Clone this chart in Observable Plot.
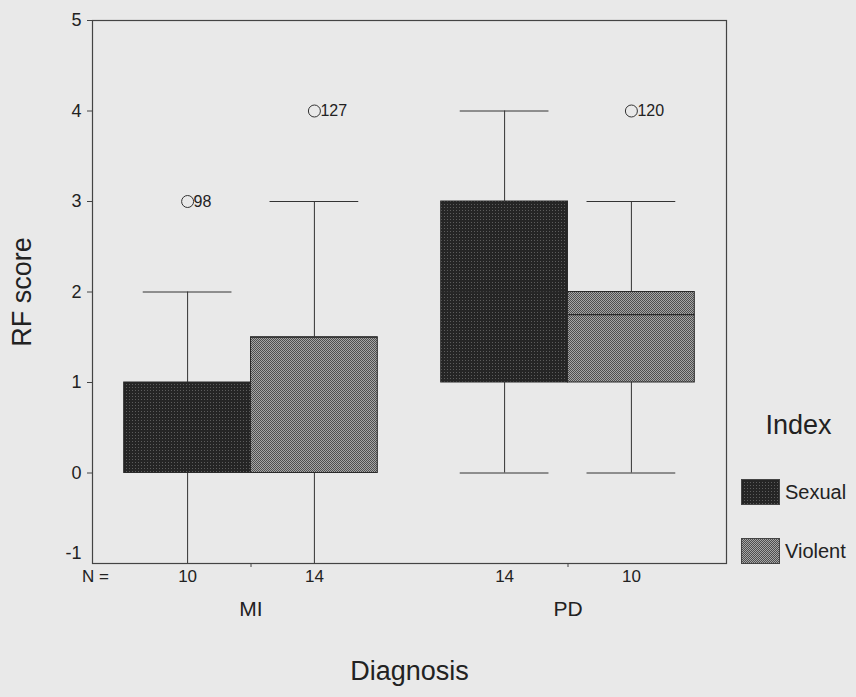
<!DOCTYPE html>
<html>
<head>
<meta charset="utf-8">
<script src="https://cdn.jsdelivr.net/npm/d3@7"></script>
<script src="https://cdn.jsdelivr.net/npm/@observablehq/plot@0.6"></script>
<style>
  html, body { margin: 0; padding: 0; background: #e9e9e9; }
  #wrap { position: relative; width: 856px; height: 697px; font-family: "Liberation Sans", Arial, sans-serif; color: #222; }
  #legend { position: absolute; left: 741px; top: 410px; width: 115px; }
  #legend .title { position: absolute; left: 0; top: 2px; width: 115px; text-align: center; font-size: 27px; line-height: 27px; }
  #legend .row { position: absolute; left: 0; display: flex; align-items: center; font-size: 20px; white-space: nowrap; }
  #legend .row svg { display: block; margin-right: 5px; }
</style>
</head>
<body>
<div id="wrap"></div>
<script>
// ---- data ----
const diagnoses = ["MI", "PD"];
const indexes = ["Sexual", "Violent"];
// order: MI-Sexual, MI-Violent, PD-Sexual, PD-Violent
const lowerWhisker = [-1, -1, 0, 0];
const q1 = [0, 0, 1, 1];
const medians = [0.5, 1.5, 2, 1.75];
const q3 = [1, 1.5, 3, 2];
const upperWhisker = [2, 3, 4, 3];
const nCounts = [10, 14, 14, 10];
const outlierDiagnosis = ["MI", "MI", "PD"];
const outlierIndex = ["Sexual", "Violent", "Violent"];
const outlierValue = [3, 4, 4];
const outlierCase = ["98", "127", "120"];
const yTicks = [-1, 0, 1, 2, 3, 4, 5];

const fills = {Sexual: "url(#pSexual)", Violent: "url(#pViolent)"};
const halfWidth = 0.4, capHalf = 0.14;

function slot(d, k) {
  const i = diagnoses.indexOf(d), j = indexes.indexOf(k);
  return {
    x1: j === 0 ? i - halfWidth : i,
    x2: j === 0 ? i : i + halfWidth,
    xc: j === 0 ? i - halfWidth / 2 : i + halfWidth / 2
  };
}

const boxes = [];
diagnoses.forEach((d, i) => indexes.forEach((k, j) => {
  const n = i * 2 + j;
  boxes.push({diagnosis: d, index: k, ...slot(d, k),
    lo: lowerWhisker[n], q1: q1[n], med: medians[n], q3: q3[n], hi: upperWhisker[n], n: nCounts[n]});
}));
const outliers = outlierValue.map((v, i) => ({value: v, label: outlierCase[i], ...slot(outlierDiagnosis[i], outlierIndex[i])}));

const ink = "#333";
const font = "Liberation Sans, Arial, sans-serif";

const chart = Plot.plot({
  width: 856,
  height: 697,
  marginLeft: 92,
  marginRight: 130,
  marginTop: 20,
  marginBottom: 134,
  style: {background: "#e9e9e9", fontFamily: font, color: "#222", overflow: "visible"},
  x: {type: "linear", domain: [-0.5, 1.5], axis: null},
  y: {domain: [-1, 5], axis: null},
  marks: [
    // whiskers
    Plot.ruleX(boxes, {x: "xc", y1: "lo", y2: "q1", stroke: ink, strokeWidth: 1}),
    Plot.ruleX(boxes, {x: "xc", y1: "q3", y2: "hi", stroke: ink, strokeWidth: 1}),
    Plot.ruleY(boxes, {y: "hi", x1: d => d.xc - capHalf, x2: d => d.xc + capHalf, stroke: ink, strokeWidth: 1}),
    Plot.ruleY(boxes, {y: "lo", x1: d => d.xc - capHalf, x2: d => d.xc + capHalf, stroke: ink, strokeWidth: 1}),
    // boxes
    Plot.rect(boxes, {x1: "x1", x2: "x2", y1: "q1", y2: "q3", fill: d => fills[d.index], stroke: "#2a2a2a", strokeWidth: 1}),
    Plot.ruleY(boxes, {y: "med", x1: "x1", x2: "x2", stroke: "#2a2a2a", strokeWidth: 1.2}),
    // outliers
    Plot.dot(outliers, {x: "xc", y: "value", r: 6, stroke: ink, strokeWidth: 1, fill: "none"}),
    Plot.text(outliers, {x: "xc", y: "value", text: "label", dx: 6, textAnchor: "start", fontSize: 16, fill: "#222"}),
    // frame
    Plot.frame({stroke: "#444", strokeWidth: 1.2}),
    // y axis
    Plot.axisY({ticks: yTicks.filter(t => t >= 0), tickSize: 5, tickFormat: () => "", label: null, stroke: "#444"}),
    Plot.text(yTicks.filter(t => t >= 0), {y: d => d, frameAnchor: "left", dx: -11, textAnchor: "end", fontSize: 18, fill: "#222", text: d => String(d)}),
    Plot.text(yTicks.filter(t => t < 0), {y: d => d, frameAnchor: "left", dx: -11, dy: -10, textAnchor: "end", fontSize: 18, fill: "#222", text: d => String(d)}),
    Plot.text(["RF score"], {frameAnchor: "left", dx: -70, rotate: -90, textAnchor: "middle", fontSize: 27, fill: "#222"}),
    // x axis
    Plot.axisX({ticks: diagnoses.map((d, i) => i), tickSize: 4, tickFormat: () => "", label: null, stroke: "#444"}),
    Plot.text(diagnoses, {x: (d, i) => i, frameAnchor: "bottom", dy: 52, fontSize: 21, fill: "#222", text: d => d}),
    Plot.text(boxes, {x: "xc", text: d => String(d.n), frameAnchor: "bottom", dy: 18, fontSize: 17, fill: "#222"}),
    Plot.text(["N ="], {x: () => -0.5, frameAnchor: "bottom", dx: 3, dy: 18, fontSize: 17, fill: "#222"}),
    Plot.text(["Diagnosis"], {frameAnchor: "bottom", dy: 116, textAnchor: "middle", fontSize: 27, fill: "#222"})
  ]
});

const defs = `<defs>
<pattern id="pSexual" width="3" height="3" patternUnits="userSpaceOnUse">
  <rect width="3" height="3" fill="#252525"/><rect width="1" height="1" fill="#5c5c5c"/>
</pattern>
<pattern id="pViolent" width="2" height="2" patternUnits="userSpaceOnUse">
  <rect width="2" height="2" fill="#a6a6a6"/><rect width="1" height="1" fill="#4e4e4e"/><rect x="1" y="1" width="1" height="1" fill="#4e4e4e"/>
</pattern>
</defs>`;
chart.insertAdjacentHTML("afterbegin", defs);

const wrap = document.getElementById("wrap");
wrap.appendChild(chart);

// legend
const legend = document.createElement("div");
legend.id = "legend";
legend.innerHTML = `<div class="title">Index</div>` + indexes.map((k, i) =>
  `<div class="row" style="top:${69 + i * 59}px"><svg width="39" height="26"><rect x="0.5" y="0.5" width="38" height="25" fill="${fills[k]}" stroke="#444"/></svg><span>${k}</span></div>`
).join("");
wrap.appendChild(legend);
</script>
</body>
</html>
